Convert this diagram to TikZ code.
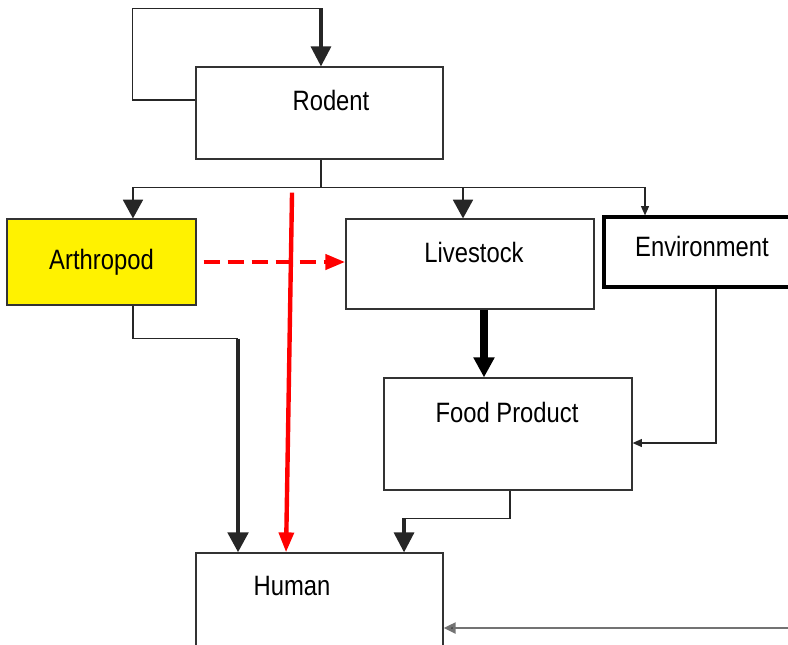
\documentclass[tikz,border=0pt]{standalone}
\usepackage{fontspec}
\setmainfont{Liberation Sans}[FakeStretch=0.85]
\usetikzlibrary{arrows.meta, positioning, calc}

\begin{document}
\begin{tikzpicture}[x=0.75pt, y=-0.75pt,
    box/.style={draw=black!80, line width=0.9pt, inner sep=0pt},
    txt/.style={font=\fontsize{21}{24}\selectfont},
    line/.style={draw=black!85, line width=0.9pt},
    bigarrow/.style={draw=black!85, line width=2.4pt, -{Triangle[width=15pt,length=15pt]}},
    midarrow/.style={line, line width=1.2pt, -{Triangle[width=15pt,length=14pt]}},
    smallarrow/.style={line, -{Triangle[width=6pt,length=7pt]}},
    redarrow/.style={draw=red, line width=3.3pt, -{Triangle[width=11pt,length=15pt]}}
  ]
      \useasboundingbox (0,0) rectangle (788,644);

      % boxes
      \node[box, minimum width=185.25pt, minimum height=69pt,
        label={[txt, xshift=8.6pt, yshift=9.75pt]center:Rodent}] (rodent) at (319.5,113) {};
      \node[box, fill=yellow, txt, minimum width=141.75pt, minimum height=64.5pt] (arthropod) at (101.5,262) {Arthropod};
      \node[box, minimum width=186pt, minimum height=67.5pt,
        label={[txt, xshift=3pt, yshift=9pt]center:Livestock}] (livestock) at (470,264) {};
      \node[box, draw=black, line width=2.4pt, minimum width=139.5pt, minimum height=52.5pt,
        label={[txt, xshift=3.75pt, yshift=4.5pt]center:Environment}] (environment) at (697,252) {};
      \node[box, minimum width=186pt, minimum height=84pt,
        label={[txt, xshift=-0.75pt, yshift=16.5pt]center:Food Product}] (food) at (508,434) {};
      \node[box, minimum width=185.25pt, minimum height=90pt,
        label={[txt, xshift=-20.6pt, yshift=20.25pt]center:Human}] (human) at (319.5,613) {};

      % rodent loop
      \coordinate (loop) at ([xshift=1.1pt, yshift=43.5pt]rodent.north);
      \draw[line] ([yshift=9.75pt]rodent.west) -- ++(-63,0) |- (loop);
      \draw[bigarrow] (loop) -- ([xshift=1.1pt]rodent.north);

      % rodent to the rest
      \coordinate (bus) at ([xshift=1.1pt, yshift=-21pt]rodent.south);
      \draw[line] ([xshift=1.1pt]rodent.south) -- (bus);
      \draw[midarrow] (bus) -| ([xshift=23.6pt]arthropod.north);
      \draw[midarrow] (bus) -| ([xshift=-5.25pt]livestock.north);
      \draw[smallarrow] (bus) -| ([xshift=-39pt]environment.north);

      % red paths
      \coordinate (redstart) at ([xshift=-20.6pt, yshift=-24.75pt]rodent.south);
      \draw[redarrow] (redstart) -- ([xshift=-25.1pt]human.north);
      \draw[redarrow, line width=3.6pt, dash pattern=on 12pt off 6pt] ([xshift=5.25pt]arthropod.east) -- (livestock.west |- arthropod.east);

      % arthropod to human
      \coordinate (ah) at ([xshift=-61.1pt, yshift=-24.75pt]arthropod.south -| human.north);
      \draw[line] ([xshift=23.6pt]arthropod.south) |- (ah);
      \draw[bigarrow, line width=3.6pt] (ah) -- ([xshift=-61.1pt]human.north);

      % livestock to food
      \draw[bigarrow, draw=black, line width=5.4pt] ([xshift=10.5pt]livestock.south) -- ([xshift=-18pt]food.north);

      % environment to food
      \draw[smallarrow] ([xshift=14.25pt]environment.south) |- ([yshift=-6.75pt]food.east);

      % food to human
      \coordinate (fh) at ([xshift=63.4pt, yshift=25.5pt]human.north);
      \draw[line] ([xshift=1.5pt]food.south) |- (fh);
      \draw[bigarrow] (fh) -- ([xshift=63.4pt]human.north);

      % from the right
      \coordinate (rightin) at (790,628);
      \draw[draw=black!55, line width=2.2pt, -{Triangle[width=8pt,length=9pt,fill=black!85]}] (rightin) -- ([yshift=-11.25pt]human.east);

\end{tikzpicture}
\end{document}
